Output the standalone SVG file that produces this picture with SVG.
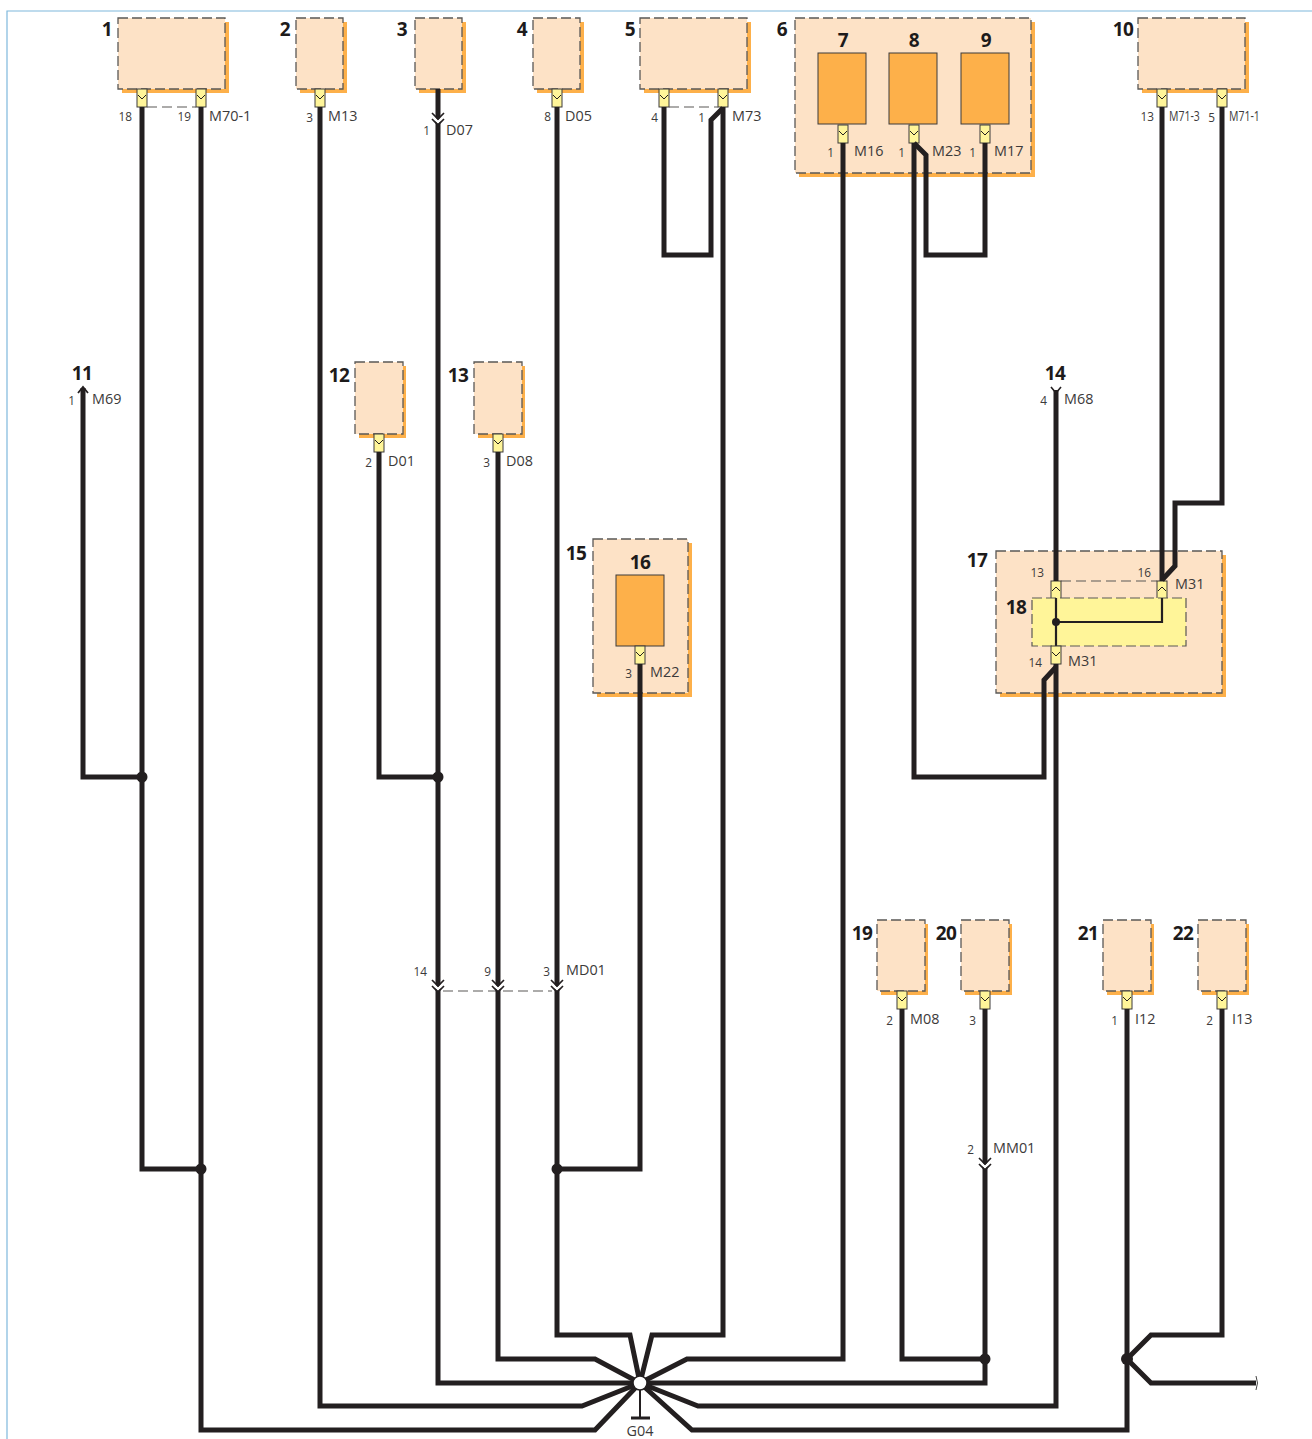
<svg xmlns="http://www.w3.org/2000/svg" width="1312" height="1439" viewBox="0 0 1312 1439">
<style>
text{font-family:"Open Sans","Noto Sans","Liberation Sans",sans-serif;fill:#3c3a3a}
.n{font-size:19px;font-weight:700;fill:#1d1b1b;text-anchor:middle;letter-spacing:-.5px}
.l{font-size:14.400px}
.p{font-size:11.800px;text-anchor:end}
.s{fill:#fde2c6;stroke:#5a5856;stroke-width:1.300;stroke-dasharray:10 4}
.sh{fill:#fdb04a}
.o{fill:#fdb04a;stroke:#3c3a3a;stroke-width:1}
.y{fill:#fff599;stroke:#5a5856;stroke-width:1.200;stroke-dasharray:10 4}
.w{fill:none;stroke:#231f20;stroke-width:5;stroke-linejoin:miter}
.t{fill:none;stroke:#231f20;stroke-width:2.200}
.d{fill:none;stroke:#5a5856;stroke-width:1.200;stroke-dasharray:10 5}
.c{fill:#fff599;stroke:#3c3a3a;stroke-width:1}
.v{fill:none;stroke:#231f20;stroke-width:1}
.j{fill:#231f20}
</style>
<defs>
<g id="cd"><rect class="c" x="-5" y="0" width="10" height="18"/><path class="v" d="M-4 6l4 4 4-4"/></g>
<g id="cu"><rect class="c" x="-5" y="0" width="10" height="18"/><path class="v" d="M-4 10l4-4 4 4"/></g>
<g id="ch" fill="none"><path d="M-6 3L0 9L6 3" stroke="#fff" stroke-width="2.600"/><path d="M-6 0L0 6L6 0M-6 6L0 12L6 6" stroke="#231f20" stroke-width="1.700"/></g>
</defs>
<path d="M7 1439V11H1312" fill="none" stroke="#7fb8dc" stroke-width="1.200"/>
<g id="node1"><rect class="sh" x="122" y="22" width="107" height="71"/><rect class="s" x="118" y="18" width="107" height="71"/><use href="#cd" x="142" y="89"/><use href="#cd" x="201" y="89"/><text class="n" x="107" y="36">1</text><text class="p" x="132" y="121">18</text><text class="p" x="191" y="121">19</text><text class="l" x="209" y="121">M70-1</text></g>
<g id="node2"><rect class="sh" x="300" y="22" width="47" height="71"/><rect class="s" x="296" y="18" width="47" height="71"/><use href="#cd" x="320" y="89"/><text class="n" x="285" y="36">2</text><text class="p" x="313" y="122">3</text><text class="l" x="328" y="121">M13</text></g>
<g id="node3"><rect class="sh" x="419" y="22" width="47" height="71"/><rect class="s" x="415" y="18" width="47" height="71"/><text class="n" x="402" y="36">3</text><text class="p" x="430" y="135">1</text><text class="l" x="446" y="135">D07</text></g>
<g id="node4"><rect class="sh" x="537" y="22" width="47" height="71"/><rect class="s" x="533" y="18" width="47" height="71"/><use href="#cd" x="557" y="89"/><text class="n" x="522" y="36">4</text><text class="p" x="551" y="121">8</text><text class="l" x="565" y="121">D05</text></g>
<g id="node5"><rect class="sh" x="644" y="22" width="107" height="71"/><rect class="s" x="640" y="18" width="107" height="71"/><use href="#cd" x="664" y="89"/><use href="#cd" x="723" y="89"/><text class="n" x="630" y="36">5</text><text class="p" x="658" y="122">4</text><text class="p" x="705" y="122">1</text><text class="l" x="732" y="121">M73</text></g>
<g id="node6"><rect class="sh" x="799" y="22" width="236" height="155"/><rect class="s" x="795" y="18" width="236" height="155"/><text class="n" x="782" y="36">6</text></g>
<g id="node7"><rect class="o" x="818" y="53" width="48" height="71"/><use href="#cd" x="843" y="125"/><text class="n" x="843" y="47">7</text><text class="p" x="834" y="157">1</text><text class="l" x="854" y="156">M16</text></g>
<g id="node8"><rect class="o" x="889" y="53" width="48" height="71"/><use href="#cd" x="914" y="125"/><text class="n" x="914" y="47">8</text><text class="p" x="905" y="157">1</text><text class="l" x="932" y="156">M23</text></g>
<g id="node9"><rect class="o" x="961" y="53" width="48" height="71"/><use href="#cd" x="985" y="125"/><text class="n" x="986" y="47">9</text><text class="p" x="976" y="157">1</text><text class="l" x="994" y="156">M17</text></g>
<g id="node10"><rect class="sh" x="1142" y="22" width="107" height="71"/><rect class="s" x="1138" y="18" width="107" height="71"/><use href="#cd" x="1162" y="89"/><use href="#cd" x="1222" y="89"/><text class="n" x="1123" y="36">10</text><text class="p" x="1154" y="121">13</text><text class="p" x="1215" y="122">5</text><text class="l" transform="translate(1169 121) scale(.73 1)">M71-3</text><text class="l" transform="translate(1229 121) scale(.73 1)">M71-1</text></g>
<g id="node11"><text class="n" x="82" y="380">11</text><text class="p" x="75" y="405">1</text><text class="l" x="92" y="404">M69</text></g>
<g id="node12"><rect class="sh" x="359" y="366" width="47" height="72"/><rect class="s" x="355" y="362" width="48" height="72"/><use href="#cd" x="379" y="434"/><text class="n" x="339" y="382">12</text><text class="p" x="372" y="467">2</text><text class="l" x="388" y="466">D01</text></g>
<g id="node13"><rect class="sh" x="478" y="366" width="47" height="72"/><rect class="s" x="474" y="362" width="48" height="72"/><use href="#cd" x="498" y="434"/><text class="n" x="458" y="382">13</text><text class="p" x="490" y="467">3</text><text class="l" x="506" y="466">D08</text></g>
<g id="node14"><text class="n" x="1055" y="380">14</text><text class="p" x="1047" y="405">4</text><text class="l" x="1064" y="404">M68</text></g>
<g id="node15"><rect class="sh" x="597" y="543" width="95" height="154"/><rect class="s" x="593" y="539" width="95" height="154"/><text class="n" x="576" y="560">15</text></g>
<g id="node16"><rect class="o" x="616" y="575" width="48" height="71"/><use href="#cd" x="640" y="646"/><text class="n" x="640" y="569">16</text><text class="p" x="632" y="678">3</text><text class="l" x="650" y="677">M22</text></g>
<g id="node17"><rect class="sh" x="1000" y="555" width="226" height="142"/><rect class="s" x="996" y="551" width="226" height="142"/><text class="n" x="977" y="567">17</text><path class="d" d="M1061 581H1157"/><use href="#cu" x="1056" y="581"/><use href="#cu" x="1162" y="581"/><text class="p" x="1044" y="577">13</text><text class="p" x="1151" y="577">16</text><text class="l" x="1175" y="589">M31</text></g>
<g id="node18"><rect class="y" x="1032" y="598" width="154" height="48"/><path class="t" d="M1056 598V646M1162 598V622H1056"/><circle class="j" cx="1056" cy="622" r="4"/><use href="#cd" x="1056" y="646"/><text class="n" x="1016" y="614">18</text><text class="p" x="1042" y="667">14</text><text class="l" x="1068" y="666">M31</text></g>
<g id="node19"><rect class="sh" x="881" y="924" width="47" height="71"/><rect class="s" x="877" y="920" width="48" height="71"/><use href="#cd" x="902" y="991"/><text class="n" x="862" y="940">19</text><text class="p" x="893" y="1025">2</text><text class="l" x="910" y="1024">M08</text></g>
<g id="node20"><rect class="sh" x="965" y="924" width="47" height="71"/><rect class="s" x="961" y="920" width="48" height="71"/><use href="#cd" x="985" y="991"/><text class="n" x="946" y="940">20</text><text class="p" x="976" y="1025">3</text></g>
<g id="node21"><rect class="sh" x="1107" y="924" width="47" height="71"/><rect class="s" x="1103" y="920" width="48" height="71"/><use href="#cd" x="1127" y="991"/><text class="n" x="1088" y="940">21</text><text class="p" x="1118" y="1025">1</text><text class="l" x="1135" y="1024">I12</text></g>
<g id="node22"><rect class="sh" x="1202" y="924" width="47" height="71"/><rect class="s" x="1198" y="920" width="48" height="71"/><use href="#cd" x="1222" y="991"/><text class="n" x="1183" y="940">22</text><text class="p" x="1213" y="1025">2</text><text class="l" x="1232" y="1024">I13</text></g>
<g id="connectors">
<path class="d" d="M147 107H196M669 107H718M443 991H552"/>
<path class="w" d="M83 388V777H142"/>
<path class="w" d="M142 107V1169H201"/>
<path class="w" d="M201 107V1430H595L640 1383"/>
<path class="w" d="M320 107V1406H582L640 1383"/>
<path class="w" d="M438 89V1383H640"/>
<path class="w" d="M379 452V777H438"/>
<path class="w" d="M498 452V1359H595L640 1383"/>
<path class="w" d="M557 107V1335H630L640 1383"/>
<path class="w" d="M557 1169H640V664"/>
<path class="w" d="M723 107V1335H652L640 1383"/>
<path class="w" d="M664 107V255H711V120L723 108"/>
<path class="w" d="M843 143V1359H687L640 1383"/>
<path class="w" d="M914 143L926 155V255H985V143"/>
<path class="w" d="M914 143V777H1044V680L1056 667"/>
<path class="w" d="M902 1009V1359H985"/>
<path class="w" d="M985 1009V1383H640"/>
<path class="w" d="M1056 390V581"/>
<path class="w" d="M1056 664V1406H698L640 1383"/>
<path class="w" d="M1162 107V581"/>
<path class="w" d="M1222 107V503H1175V566L1162 580"/>
<path class="w" d="M1127 1009V1430H692L640 1383"/>
<path class="w" d="M1222 1009V1335H1151L1127 1359L1151 1383H1256"/>
<path d="M1256 1376q3 7 0 14" fill="none" stroke="#444" stroke-width="1"/>
<circle class="j" cx="142" cy="777" r="5.500"/><circle class="j" cx="201" cy="1169" r="5.500"/><circle class="j" cx="438" cy="777" r="5.500"/><circle class="j" cx="557" cy="1169" r="5.500"/><circle class="j" cx="985" cy="1359" r="5.500"/><circle class="j" cx="1127" cy="1359" r="6"/>
<use href="#ch" x="438" y="113"/>
<use href="#ch" x="438" y="980"/><use href="#ch" x="498" y="980"/><use href="#ch" x="557" y="980"/>
<use href="#ch" x="985" y="1158"/>
<path d="M78 393l5-6 5 6" fill="none" stroke="#231f20" stroke-width="1.800"/>
<path d="M1051 387l5 6 5-6" fill="none" stroke="#231f20" stroke-width="1.600"/>
</g>
<g id="connector-labels">
<text class="p" x="427" y="976">14</text><text class="p" x="491" y="976">9</text><text class="p" x="550" y="976">3</text><text class="l" x="566" y="975">MD01</text>
<text class="p" x="974" y="1154">2</text><text class="l" x="993" y="1153">MM01</text>
</g>
<g id="ground"><path d="M640 1388V1418" stroke="#231f20" stroke-width="2"/><path d="M631 1418H650" stroke="#231f20" stroke-width="3"/><circle cx="640" cy="1383" r="7" fill="#fff" stroke="#231f20" stroke-width="1.500"/><text class="l" x="640" y="1436" text-anchor="middle">G04</text></g>
</svg>
